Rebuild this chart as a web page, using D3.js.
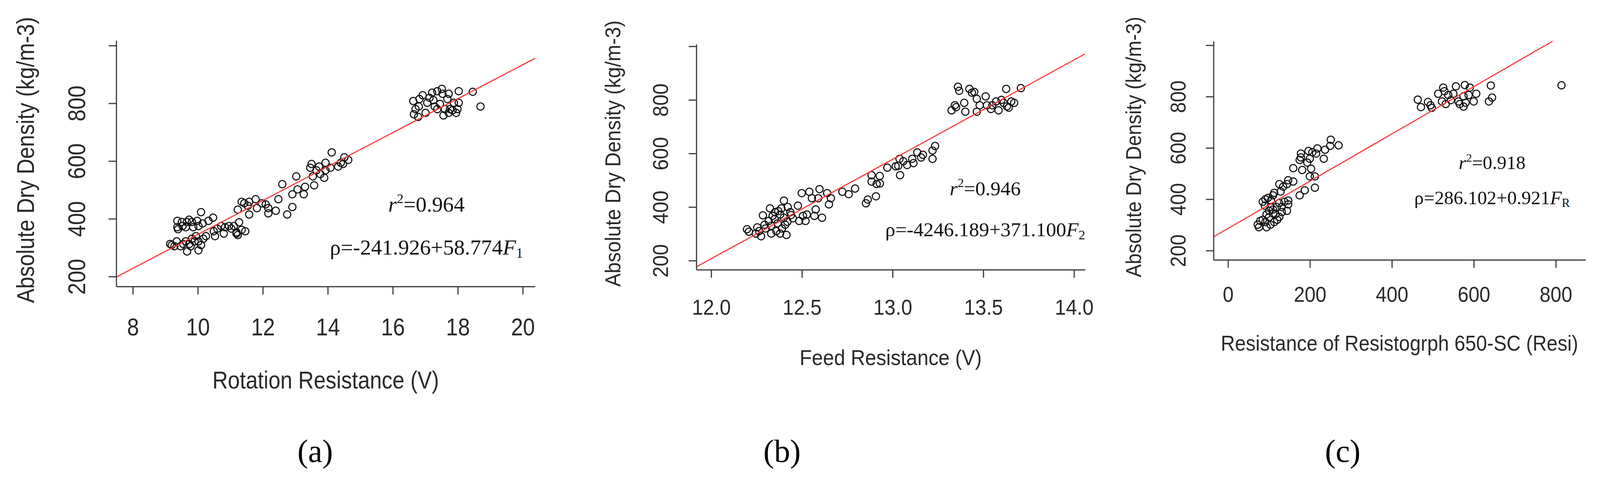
<!DOCTYPE html>
<html>
<head>
<meta charset="utf-8">
<script src="https://cdn.jsdelivr.net/npm/d3@7/dist/d3.min.js"></script>
<style>
    html, body { margin: 0; padding: 0; background: #fff; overflow: hidden; }
    svg { display: block; }
</style>
</head>
<body>
<div id="chart-area"></div>
<script>
/*
*    Density vs resistance scatter plots, three panels
*/

// ---- data ----
var rotationPts = [
    [9.37,393],[9.37,371],[9.39,364],[9.51,389],[9.66,389],[9.82,389],[9.98,393],[10.10,423],[10.15,384],[10.33,393],
    [10.47,404],[9.63,371],[9.86,371],[10.02,375],[9.73,397],[9.53,375],
    [9.20,309],[9.35,322],[9.28,305],[9.47,305],[9.55,313],[9.67,287],[9.74,313],[9.78,305],[9.90,322],[10.02,291],
    [10.10,309],[10.17,331],[10.25,340],[9.94,340],[9.82,331],[9.63,322],[10.02,322],[9.15,313],
    [10.49,357],[10.60,366],[10.53,340],[10.72,375],[10.84,371],[10.96,375],[10.80,349],[11.03,366],[11.19,353],[11.27,388],
    [11.35,362],[11.46,357],[11.19,349],[11.11,375],[11.23,344],
    [11.23,432],[11.43,454],[11.58,459],[11.78,468],[11.58,415],[11.82,437],[11.54,445],[12.09,450],[12.17,437],[12.17,419],
    [12.40,428],[12.48,468],[12.75,415],[12.91,441],[11.35,459],[11.97,454],
    [12.60,520],[13.03,547],[12.91,485],[13.07,502],[13.26,485],[13.30,511],[13.58,516],[13.46,577],[13.65,568],[13.77,555],
    [13.89,542],[13.93,568],[14.08,577],[14.12,630],[14.32,581],[14.40,594],[14.51,613],[14.63,604],[13.54,547],[13.93,594],
    [13.50,590],[13.73,581],[14.47,590],
    [16.63,808],[16.65,762],[16.92,828],[16.80,789],[17.06,802],[17.21,837],[17.25,811],[17.37,842],[17.51,850],[17.53,833],
    [17.45,798],[17.56,758],[17.72,833],[17.76,780],[17.88,802],[18.03,842],[17.95,767],[18.46,840],[18.70,789],[17.29,789],
    [17.60,780],[17.72,767],[17.84,776],[17.01,767],[17.37,780],[17.13,819],[16.82,815],[17.68,815],[18.03,802],[17.99,780],
    [16.70,780],[16.78,753]
];

var feedPts = [
    [12.197,317],[12.208,308],[12.254,324],[12.275,291],[12.264,310],[12.285,369],[12.324,395],[12.338,367],[12.317,348],[12.331,301],
    [12.359,310],[12.380,301],[12.415,296],[12.401,424],[12.387,395],[12.422,400],[12.436,381],[12.408,334],[12.366,339],[12.352,381],
    [12.450,358],[12.478,405],[12.485,348],[12.506,367],[12.520,348],[12.527,372],[12.576,391],[12.569,367],[12.611,360],[12.499,452],
    [12.541,457],[12.555,433],[12.597,467],[12.590,433],[12.639,452],[12.660,433],[12.649,410],[12.723,457],[12.758,448],[12.793,469],
    [12.380,372],[12.294,334],[12.246,301],[12.350,355],[12.400,360],[12.370,385],[12.420,345],[12.330,330],[12.440,370],[12.300,320],
    [12.390,320],
    [12.884,519],[12.929,516],[12.884,495],[12.912,486],[12.930,488],[12.853,414],[12.863,428],[12.908,440],[12.971,547],[13.038,580],
    [13.031,554],[13.041,519],[13.059,571],[13.080,557],[13.108,580],[13.115,564],[13.136,604],[13.157,585],[13.167,595],[13.220,580],
    [13.220,611],[13.234,628],[13.017,552],
    [13.360,849],[13.367,834],[13.423,841],[13.437,827],[13.450,830],[13.325,761],[13.343,780],[13.350,773],[13.395,789],[13.401,756],
    [13.464,756],[13.464,804],[13.480,780],[13.513,813],[13.520,780],[13.542,766],[13.570,794],[13.584,761],[13.612,789],[13.626,841],
    [13.654,794],[13.670,789],[13.640,771],[13.707,844],[13.600,800],[13.550,780],[13.630,776]
];

var resiPts = [
    [250.9,632],[249.3,608],[236.9,593],[233.8,558],[218.3,598],[215.2,578],[205.9,583],[196.6,588],[199.7,558],[193.5,543],
    [178,578],[178,563],[174.9,553],[159.3,521],[181.1,514],[202.8,519],[199.7,489],[212.1,489],[212.1,445],[187.3,435],
    [174.9,415],[147,474],[159.3,469],[143.9,459],[125.3,459],[134.6,449],[128.4,430],[112.8,425],[109.8,415],[84.9,390],
    [91.2,400],[97.4,405],[147,395],[147,380],[143.9,355],[131.4,350],[125.3,331],[115.9,341],[109.8,360],[103.6,370],
    [100.5,355],[94.2,341],[91.2,311],[78.8,316],[72.6,301],[75.6,291],[94.2,291],[103.6,301],[112.8,311],[119,370],
    [131,370],[137.7,390],[270,610],[85,320],[100,330],[120,320],[110,345],[90,375],[125,385],[105,395],
    [463.2,788],[471,759],[488.1,779],[494.3,766],[497.4,756],[525.3,835],[528.4,821],[512.9,811],[522.2,781],[531.5,771],
    [537.7,806],[556.3,840],[550.1,811],[543.9,786],[562.5,781],[578,845],[590.4,835],[574.9,801],[587.3,806],[605.9,811],
    [599.7,781],[574.9,761],[565.6,771],[580,776],[641.6,843],[644.6,796],[636.9,781],[814,844]
];

var rotationTicks = [8, 10, 12, 14, 16, 18, 20];
var feedTicks = [12.0, 12.5, 13.0, 13.5, 14.0];
var resiTicks = [0, 200, 400, 600, 800];
var densityTicks = [200, 400, 600, 800, 1000];

var fitIntercepts = [-241.926, -4246.189, 286.102];
var fitSlopes = [58.774, 371.100, 0.921];
var r2Values = ["0.964", "0.946", "0.918"];
var fitLabels = ["ρ=-241.926+58.774", "ρ=-4246.189+371.100", "ρ=286.102+0.921"];
var fitVars = ["1", "2", "R"];

var xTitles = ["Rotation Resistance (V)", "Feed Resistance (V)", "Resistance of Resistogrph 650-SC (Resi)"];
var yTitle = "Absolute Dry Density (kg/m-3)";
var panelLetters = ["(a)", "(b)", "(c)"];

var sansFont = "'Liberation Sans', Arial, sans-serif";
var serifFont = "'Liberation Serif', 'Times New Roman', serif";

// the whole figure lives in a 4198 x 1255 box, scaled to the window width
var svg = d3.select("#chart-area").append("svg")
    .attr("viewBox", "0 0 4198 1255")
    .attr("preserveAspectRatio", "xMinYMin meet")
    .style("width", "100vw")
    .style("height", "auto")
    .style("background", "#fff");

// Object Constructor
ScatterPanel = function(_svg, _idx, _data, _xTicks, _opts){
    this.svg = _svg;
    this.idx = _idx;
    this.data = _data;
    this.xTicks = _xTicks;
    this.opts = _opts;

    this.initVis();
};

ScatterPanel.prototype.initVis = function() {
    var vis = this;
    var o = vis.opts;
    var sx = o.sx;   // the R text is a bit narrower than Arial

    vis.x = d3.scaleLinear().domain(o.xDomain).range([o.left, o.right]);
    vis.y = d3.scaleLinear().domain(o.yDomain).range([o.bottom, o.top]);

    vis.g = vis.svg.append("g");

    // clip to the plot region
    vis.g.append("clipPath").attr("id", "clip" + vis.idx)
        .append("rect")
        .attr("x", o.left).attr("y", o.top)
        .attr("width", o.right - o.left).attr("height", o.bottom - o.top);

    // points
    vis.g.append("g")
        .selectAll("circle")
        .data(vis.data)
        .enter().append("circle")
        .attr("cx", function(d) { return vis.x(d[0]); })
        .attr("cy", function(d) { return vis.y(d[1]); })
        .attr("r", 9.5)
        .attr("fill", "none")
        .attr("stroke", "#111")
        .attr("stroke-width", 2.8);

    // fitted line
    var b0 = fitIntercepts[vis.idx], b1 = fitSlopes[vis.idx];
    vis.g.append("line")
        .attr("clip-path", "url(#clip" + vis.idx + ")")
        .attr("x1", vis.x(o.xDomain[0])).attr("y1", vis.y(b0 + b1 * o.xDomain[0]))
        .attr("x2", vis.x(o.xDomain[1])).attr("y2", vis.y(b0 + b1 * o.xDomain[1]))
        .attr("stroke", "#ff3b3b")
        .attr("stroke-width", 3);

    // axes
    var xAxis = d3.axisBottom(vis.x)
        .tickValues(vis.xTicks)
        .tickSize(21)
        .tickSizeOuter(0)
        .tickPadding(0)
        .tickFormat(o.fmt);

    var yAxis = d3.axisLeft(vis.y)
        .tickValues(densityTicks)
        .tickSize(20)
        .tickSizeOuter(0)
        .tickFormat(function(d) { return d == 1000 ? "" : d; });

    var gx = vis.g.append("g")
        .attr("transform", "translate(0," + o.bottom + ")")
        .call(xAxis);
    gx.selectAll("text")
        .attr("x", 0).attr("y", 0).attr("dy", 0)
        .attr("transform", "translate(0," + (o.xLabelY - o.bottom) + ") scale(" + sx + ",1)")
        .attr("font-size", o.fs)
        .attr("font-family", sansFont)
        .attr("fill", "#2a2a2a");

    var gy = vis.g.append("g")
        .attr("transform", "translate(" + o.left + ",0)")
        .call(yAxis);
    gy.selectAll("text")
        .attr("x", 0).attr("y", 0).attr("dy", 0)
        .attr("text-anchor", "middle")
        .attr("transform", "translate(" + (o.yLabelX - o.left) + ",0) rotate(-90) scale(" + sx + ",1)")
        .attr("font-size", o.fs)
        .attr("font-family", sansFont)
        .attr("fill", "#2a2a2a");

    vis.g.selectAll(".domain, .tick line")
        .attr("stroke", "#383838")
        .attr("stroke-width", 3);

    // axis titles
    vis.g.append("text")
        .attr("transform", "translate(" + ((o.left + o.right) / 2) + "," + o.xTitleY + ") scale(" + sx + ",1)")
        .attr("text-anchor", "middle")
        .attr("font-size", o.fs)
        .attr("font-family", sansFont)
        .attr("fill", "#2a2a2a")
        .text(xTitles[vis.idx]);

    vis.g.append("text")
        .attr("transform", "translate(" + o.yTitleX + "," + ((o.top + o.bottom) / 2 - 9) + ") rotate(-90) scale(" + sx + ",1)")
        .attr("text-anchor", "middle")
        .attr("font-size", o.fs)
        .attr("font-family", sansFont)
        .attr("fill", "#2a2a2a")
        .text(yTitle);

    // r^2 and equation
    var fs = o.afs;
    var t1 = vis.g.append("text")
        .attr("x", o.annX).attr("y", o.r2Y)
        .attr("text-anchor", "middle")
        .attr("font-size", fs)
        .attr("font-family", serifFont)
        .attr("fill", "#111");
    t1.append("tspan").attr("font-style", "italic").text("r");
    t1.append("tspan").attr("font-size", fs * 0.62).attr("dy", -fs * 0.4).text("2");
    t1.append("tspan").attr("dy", fs * 0.4).text("=" + r2Values[vis.idx]);

    var t2 = vis.g.append("text")
        .attr("x", o.annX).attr("y", o.eqY)
        .attr("text-anchor", "middle")
        .attr("font-size", fs)
        .attr("font-family", serifFont)
        .attr("fill", "#111");
    t2.append("tspan").text(fitLabels[vis.idx]);
    t2.append("tspan").attr("font-style", "italic").text("F");
    t2.append("tspan").attr("font-size", fs * 0.65).attr("dy", fs * 0.15).text(fitVars[vis.idx]);

    // panel letter
    vis.g.append("text")
        .attr("x", o.letterX).attr("y", 1212)
        .attr("text-anchor", "middle")
        .attr("font-size", 84)
        .attr("font-family", serifFont)
        .attr("fill", "#000")
        .text(panelLetters[vis.idx]);
};

new ScatterPanel(svg, 0, rotationPts, rotationTicks, {
    left: 305, right: 1404, top: 106, bottom: 752,
    xDomain: [7.49, 20.38], yDomain: [165.7, 1018],
    fmt: d3.format("d"), fs: 64, sx: 0.88, afs: 57,
    xLabelY: 880, xTitleY: 1020, yLabelX: 223, yTitleX: 89,
    annX: 1119, r2Y: 556, eqY: 668, letterX: 827
});

new ScatterPanel(svg, 1, feedPts, feedTicks, {
    left: 1827, right: 2847, top: 116, bottom: 708,
    xDomain: [11.918, 14.061], yDomain: [166, 1008],
    fmt: d3.format(".1f"), fs: 57, sx: 0.92, afs: 53,
    xLabelY: 826, xTitleY: 958, yLabelX: 1753, yTitleX: 1628,
    annX: 2585, r2Y: 512, eqY: 620, letterX: 2052
});

new ScatterPanel(svg, 2, resiPts, resiTicks, {
    left: 3184, right: 4160, top: 108, bottom: 682,
    xDomain: [-35.3, 872.6], yDomain: [164, 1016],
    fmt: d3.format("d"), fs: 57, sx: 0.9, afs: 50,
    xLabelY: 792, xTitleY: 920, yLabelX: 3111, yTitleX: 2994,
    annX: 3915, r2Y: 444, eqY: 536, letterX: 3523
});
</script>
</body>
</html>
